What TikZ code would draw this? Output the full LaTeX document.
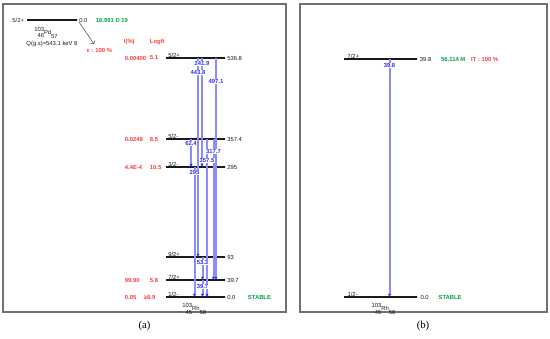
\documentclass[tikz,border=0pt]{standalone}
\usepackage{fontspec}
\setmainfont{Liberation Sans}
\newfontfamily\capfont{Liberation Serif}
\usetikzlibrary{arrows.meta, positioning, calc}
\definecolor{ink}{HTML}{1A1A1A}
\definecolor{framegray}{HTML}{707070}
\definecolor{decred}{HTML}{FF3B3B}
\definecolor{decgreen}{HTML}{00A04A}
\definecolor{gamblue}{HTML}{2E2EFF}
\definecolor{gamline}{HTML}{8C8CFF}
\newcommand{\nuclide}[4]{\raisebox{2.6pt}{#1}\llap{\raisebox{-2.6pt}{#2}}#3\raisebox{-2.8pt}{#4}}
\tikzset{
  level/.style    = {draw=ink, line width=0.9pt, minimum width=44.25pt, minimum height=0pt,
                      inner sep=0pt, outer sep=0pt},
  txt/.style      = {font=\fontsize{4.4}{5}\selectfont, text=ink, inner sep=0.5pt},
  redlbl/.style   = {txt, font=\fontsize{4.4}{5}\selectfont\bfseries, text=decred},
  greenlbl/.style = {txt, font=\fontsize{4.4}{5}\selectfont\bfseries, text=decgreen},
  gamlbl/.style   = {txt, font=\fontsize{4.4}{5}\selectfont\bfseries, text=gamblue, fill=white},
  gam/.style      = {draw=gamline, line width=1.5pt,
                      -{Latex[length=2.4pt, width=2.6pt, color=gamblue]}},
  decay/.style    = {draw=ink!80, line width=0.4pt, -{To[length=2pt]}},
  frame/.style    = {draw=framegray, line width=1.1pt},
  caption/.style  = {font=\capfont\fontsize{8}{9}\selectfont, text=black},
}

\begin{document}
\begin{tikzpicture}[x=0.75pt, y=-0.75pt]
  \useasboundingbox (0,0) rectangle (550,339);
  \draw[frame] (3,4) rectangle (286,312);
  \draw[frame] (300,4) rectangle (547,312);
  \node[caption] (capa) at (144.5,326) {(a)};
  \node[caption] (capb) at (423,326) {(b)};

  % parent 103Pd
  \node[level, minimum width=37.5pt] (lpar) at (52,20) {};
  \node[txt, left=1.5pt of lpar] (spar) {5/2+};
  \node[txt, right=1pt of lpar] (epar) {0.0};
  \node[greenlbl, right=5pt of epar] (tpar) {16.991 D 19};
  \node[txt, below=4.5pt of lpar, xshift=-4.5pt] (pd) {\nuclide{103}{46}{Pd}{57}};
  \node[txt, below=15pt of lpar] (qgs) {Q(g.s)=543.1 keV 8};
  \node[redlbl, anchor=west] (ec) at (86,50) {ε : 100 \%};
  \draw[decay] ($(lpar.east)+(2,2)$) -- ($(ec.north west)+(8,-3)$);

  \node[redlbl, anchor=west] (hint) at (123,42) {I(\%)};
  \node[redlbl, anchor=west] (hlogft) at (149,42) {Logft};

  % levels of 103Rh
  \node[level] (l536) at (195.5,58) {};
  \node[txt, above right=0pt and 1pt of l536.west] (s536) {5/2+};
  \node[txt, right=1pt of l536] (e536) {536.8};
  \node[redlbl, anchor=west] (i536) at (124,58) {0.00400};
  \node[redlbl, anchor=west] (f536) at (149,58) {5.1};

  \node[level] (l357) at (195.5,139) {};
  \node[txt, above right=0pt and 1pt of l357.west] (s357) {5/2-};
  \node[txt, right=1pt of l357] (e357) {357.4};
  \node[redlbl, anchor=west] (i357) at (124,139) {0.0248};
  \node[redlbl, anchor=west] (f357) at (149,139) {8.5};

  \node[level] (l295) at (195.5,167) {};
  \node[txt, above right=0pt and 1pt of l295.west] (s295) {3/2-};
  \node[txt, right=1pt of l295] (e295) {295};
  \node[redlbl, anchor=west] (i295) at (124,167) {4.4E-4};
  \node[redlbl, anchor=west] (f295) at (149,167) {10.5};

  \node[level] (l93) at (195.5,257) {};
  \node[txt, above right=0pt and 1pt of l93.west] (s93) {9/2+};
  \node[txt, right=1pt of l93] (e93) {93};

  \node[level] (l39) at (195.5,280) {};
  \node[txt, above right=0pt and 1pt of l39.west] (s39) {7/2+};
  \node[txt, right=1pt of l39] (e39) {39.7};
  \node[redlbl, anchor=west] (i39) at (124,280) {99.90};
  \node[redlbl, anchor=west] (f39) at (149,280) {5.8};

  \node[level] (l0) at (195.5,297) {};
  \node[txt, above right=0pt and 1pt of l0.west] (s0) {1/2-};
  \node[txt, right=1pt of l0] (e0) {0.0};
  \node[greenlbl, right=8pt of e0] (st0) {STABLE};
  \node[redlbl, anchor=west] (i0) at (124,297) {0.05};
  \node[redlbl, anchor=west] (f0) at (143,297) {≥8.9};
  \node[txt, below=4pt of l0, xshift=-1pt] (rha) {\nuclide{103}{45}{Rh}{58}};

  % gamma transitions
  \draw[gam] ($(l536.west)+(32,0)$) coordinate (g4438) -- ($(l93.west)+(32,0)$);
  \draw[gam] ($(l536.west)+(36,0)$) coordinate (g2419) -- ($(l295.west)+(36,0)$);
  \draw[gam] ($(l536.west)+(50,0)$) coordinate (g4971) -- ($(l39.west)+(50,0)$);
  \draw[gam] ($(l357.west)+(25,0)$) coordinate (g624) -- ($(l295.west)+(25,0)$);
  \draw[gam] ($(l357.west)+(41,0)$) coordinate (g3575) -- ($(l0.west)+(41,0)$);
  \draw[gam] ($(l357.west)+(47.5,0)$) coordinate (g3177) -- ($(l39.west)+(47.5,0)$);
  \draw[gam] ($(l295.west)+(28.5,0)$) coordinate (g295) -- ($(l0.west)+(28.5,0)$);
  \draw[gam] ($(l93.west)+(36.5,0)$) coordinate (g533) -- ($(l39.west)+(36.5,0)$);
  \draw[gam] ($(l39.west)+(36.5,0)$) coordinate (g397) -- ($(l0.west)+(36.5,0)$);

  \node[gamlbl, below=2pt of g2419] (t2419) {241.9};
  \node[gamlbl, below=8.8pt of g4438] (t4438) {443.8};
  \node[gamlbl, below=15.5pt of g4971] (t4971) {497.1};
  \node[gamlbl, below=1.3pt of g624] (t624) {62.4};
  \node[gamlbl, below=7.3pt of g3177] (t3177) {317.7};
  \node[gamlbl, below=14pt of g3575] (t3575) {357.5};
  \node[gamlbl, below=2pt of g295] (t295) {295};
  \node[gamlbl, below=2pt of g533] (t533) {53.3};
  \node[gamlbl, below=2.8pt of g397] (t397) {39.7};

  % isomer 103mRh
  \node[level, minimum width=54.75pt] (m398) at (380.5,59) {};
  \node[txt, above right=0pt and 2pt of m398.west] (sm398) {7/2+};
  \node[txt, right=1.5pt of m398] (em398) {39.8};
  \node[greenlbl, right=6pt of em398] (tm398) {56.114 M};
  \node[redlbl, right=3pt of tm398] (it) {IT : 100 \%};

  \node[level, minimum width=54.75pt] (m0) at (380.5,297) {};
  \node[txt, above right=0pt and 2pt of m0.west] (sm0) {1/2-};
  \node[txt, right=2pt of m0] (em0) {0.0};
  \node[greenlbl, right=6pt of em0] (stm0) {STABLE};
  \node[txt, below=4pt of m0, xshift=2.25pt] (rhb) {\nuclide{103}{45}{Rh}{58}};

  \draw[gam] ($(m398.west)+(45.5,0)$) coordinate (g398) -- ($(m0.west)+(45.5,0)$);
  \node[gamlbl, below=2.8pt of g398] (t398) {39.8};
\end{tikzpicture}
\end{document}
